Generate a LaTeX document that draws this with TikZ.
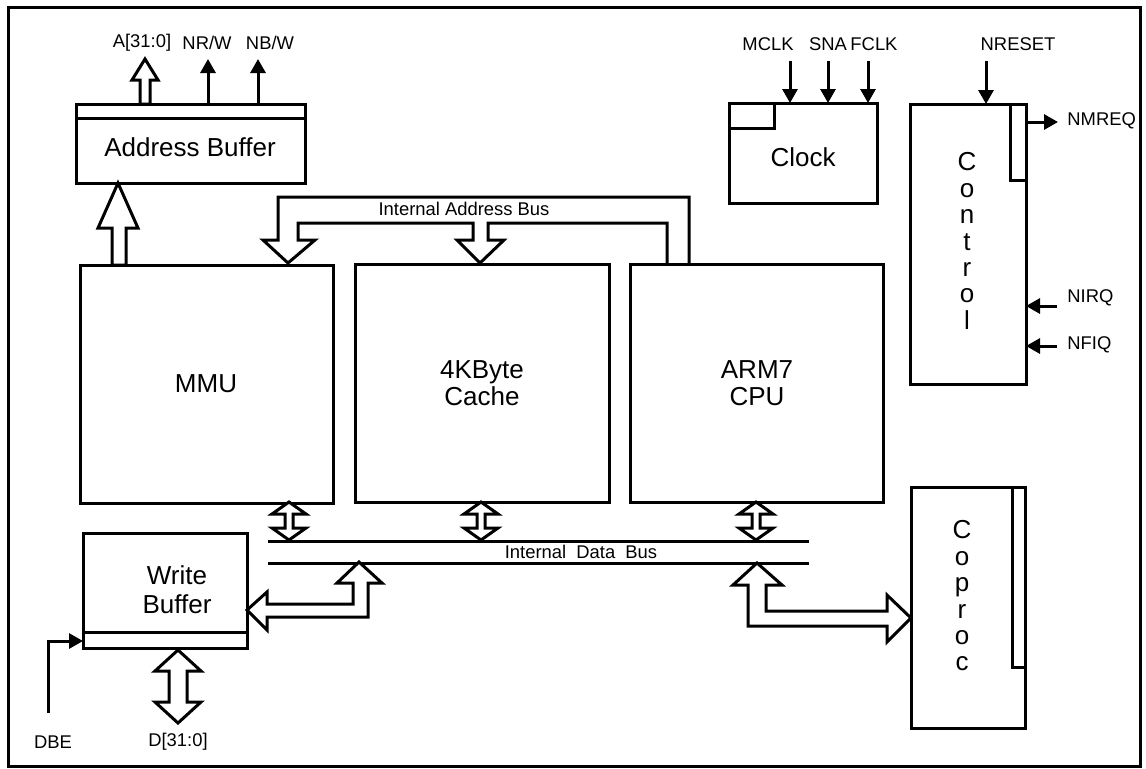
\documentclass[tikz,border=0pt]{standalone}
\usepackage{fontspec}
\setmainfont{Liberation Sans}
\usetikzlibrary{arrows.meta}

\begin{document}
\begin{tikzpicture}[x=0.5pt,y=-0.5pt,
  box/.style={draw, line width=1.5pt, inner sep=0pt, outer sep=0pt},
  big/.style={font=\fontsize{13}{13.6}\selectfont, align=center, inner sep=0pt},
  small/.style={font=\fontsize{9.2}{11}\selectfont, inner sep=0pt},
  sig/.style={line width=1.5pt, -{Triangle[length=7pt,width=7.5pt]}},
  fat/.style={draw, line width=1.5pt, fill=white, line join=miter},
  strip/.style={draw, line width=1.5pt}]

% page and frame
\useasboundingbox (0,0) rectangle (1146,768);
\draw[line width=1.5pt] (8,7) rectangle (1140,766);

% functional blocks
\node[box, minimum width=114.5pt, minimum height=39.5pt] (abuf) at (190.5,143.5) {};
\node[box, minimum width=126.5pt, minimum height=119pt] (mmu) at (206.5,384) {};
\node[box, minimum width=127pt, minimum height=119pt] (cache) at (482,383) {};
\node[box, minimum width=126.5pt, minimum height=119pt] (cpu) at (756.5,383) {};
\node[box, minimum width=74pt, minimum height=50pt] (clock) at (803,153) {};
\node[box, minimum width=58pt, minimum height=140pt] (ctrl) at (968,244) {};
\node[box, minimum width=57pt, minimum height=120.5pt] (coproc) at (968,607.5) {};
\node[box, minimum width=82pt, minimum height=57.5pt] (wbuf) at (165,590.5) {};

% latch strips and corner marks inside the blocks
\draw[strip] (76,118) -- (305,118);
\draw[strip] (729,128) -| (774,103);
\draw[strip] (1010,104) |- (1026,180);
\draw[strip] (1012,487) rectangle (1025,667);
\draw[strip] (83,632) -- (247,632);

% block captions
\node[big] (t-abuf) at (190,147) {Address Buffer};
\node[big] (t-mmu) at (206,384) {MMU};
\node[big] (t-cache) at (482,383.5) {4KByte\\Cache};
\node[big] (t-cpu) at (757,383.5) {ARM7\\CPU};
\node[big] (t-clock) at (803,157) {Clock};
\node[big] (t-wbuf) at (177,590) {Write\\[1pt]Buffer};
\node[font=\fontsize{13}{13.2}\selectfont, align=center, inner sep=0pt] (t-ctrl) at (967,241) {C\\o\\n\\t\\r\\o\\l};
\node[font=\fontsize{13}{13.2}\selectfont, align=center, inner sep=0pt] (t-coproc) at (962,596) {C\\o\\p\\r\\o\\c};

% address outputs
\node[small] (l-a) at (142,43) {A[31:0]};
\node[small] (l-nrw) at (207,43) {NR/W};
\node[small] (l-nbw) at (270,43) {NB/W};
\draw[fat] (140,104) -- (140,80) -- (132,80) -- (145,59) -- (158,80) -- (150,80) -- (150,104) -- cycle;
\coordinate (nrw-out) at (208,59);
\coordinate (nbw-out) at (258,59);
\draw[sig] (nrw-out |- abuf.north) -- (nrw-out);
\draw[sig] (nbw-out |- abuf.north) -- (nbw-out);

% MMU to address buffer
\draw[fat] (112,265) -- (112,228) -- (98,228) -- (118,183) -- (138,228) -- (126,228) -- (126,265) -- cycle;

% clock inputs
\node[small] (l-mclk) at (768,44) {MCLK};
\node[small] (l-sna) at (828,44) {SNA};
\node[small] (l-fclk) at (874,44) {FCLK};
\coordinate (mclk-in) at (790,61);
\coordinate (sna-in) at (828,61);
\coordinate (fclk-in) at (868,61);
\draw[sig] (mclk-in) -- (mclk-in |- clock.north);
\draw[sig] (sna-in) -- (sna-in |- clock.north);
\draw[sig] (fclk-in) -- (fclk-in |- clock.north);

% control signals
\node[small] (l-nreset) at (1018,44) {NRESET};
\coordinate (nreset-in) at (986,61);
\draw[sig] (nreset-in) -- (nreset-in |- ctrl.north);
\node[small, anchor=west] (l-nmreq) at (1067,121) {NMREQ};
\coordinate (nmreq-out) at (1058,122);
\draw[sig] (nmreq-out -| ctrl.east) -- (nmreq-out);
\node[small, anchor=west] (l-nirq) at (1067,298) {NIRQ};
\coordinate (nirq-in) at (1057,306);
\draw[sig] (nirq-in) -- (nirq-in -| ctrl.east);
\node[small, anchor=west] (l-nfiq) at (1067,345) {NFIQ};
\coordinate (nfiq-in) at (1057,346);
\draw[sig] (nfiq-in) -- (nfiq-in -| ctrl.east);

% internal address bus
\draw[line width=1.5pt, line join=miter]
  (689,264) -- (689,197) -- (278,197) -- (278,240) -- (263,240) -- (288,263)
  -- (315,240) -- (298,240) -- (298,223) -- (473,223) -- (473,240) -- (457,240)
  -- (480,263) -- (504,240) -- (488,240) -- (488,223) -- (667,223) -- (667,264);
\node[small] (l-iab) at (464,209) {Internal Address Bus};

% internal data bus
\coordinate (db-l) at (268,541);
\coordinate (db-r) at (809,563);
\draw[line width=1.5pt] (db-l) -- (db-l -| db-r);
\draw[line width=1.5pt] (db-l |- db-r) -- (db-r);
\node[small] (l-idb) at (581,552) {Internal~~Data~~Bus};

% block to data bus links
\foreach \c in {289,481,756} {
  \draw[fat] (\c,502) -- ++(17,12) -- ++(-13,0) -- ++(0,14) -- ++(13,0)
    -- (\c,540) -- ++(-17,-12) -- ++(13,0) -- ++(0,-14) -- ++(-13,0) -- cycle;
}

% data bus to write buffer
\draw[fat] (337,583) -- (359,562) -- (382,583) -- (368,583) -- (368,617)
  -- (267,617) -- (267,630) -- (247,610) -- (267,592) -- (267,604)
  -- (353,604) -- (353,583) -- cycle;

% data bus to coprocessor
\draw[fat] (733,585) -- (757,563) -- (782,585) -- (766,585) -- (766,611)
  -- (887,611) -- (887,595) -- (911,618) -- (887,642) -- (887,626)
  -- (748,626) -- (748,585) -- cycle;

% external data port
\draw[fat] (178,650) -- (201,671) -- (187,671) -- (187,702) -- (201,702)
  -- (178,723) -- (155,702) -- (169,702) -- (169,671) -- (155,671) -- cycle;
\node[small] (l-d) at (178,742) {D[31:0]};

% data buffer enable
\node[small] (l-dbe) at (53,742) {DBE};
\coordinate (dbe-in) at (48,713);
\coordinate (wbuf-en) at (83,641);
\draw[sig] (dbe-in) |- (wbuf-en);

\end{tikzpicture}
\end{document}
